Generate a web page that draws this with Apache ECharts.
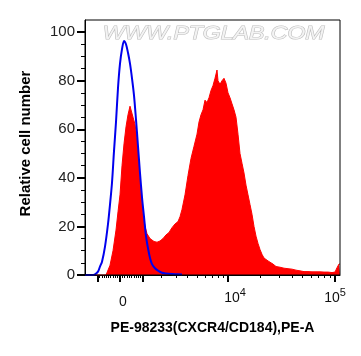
<!DOCTYPE html>
<html>
<head>
<meta charset="utf-8">
<script src="https://cdn.jsdelivr.net/npm/echarts@6/dist/echarts.min.js"></script>
<style>
html,body{margin:0;padding:0;background:#fff;}
#chart{width:361px;height:356px;}
</style>
</head>
<body>
<div id="chart"></div>
<script>
// ---- data (x in display channels, 0..255; y = relative cell number) ----
const redChannels = [0,21,22,25,28,31,33,35,37,39,41,43,45,46,48,50,52,54,56,58,60,62,65,69,72,75,78,81,84,87,90,93,95,97,100,103,106,109,112,114,116,118,120,122,124,126,128,130,132,133,135,137,139,141,143,145,147,149,151,153,155,157,159,161,163,165,167,169,171,173,175,177,179,181,183,185,188,191,195,199,203,207,211,215,219,223,227,231,235,239,243,247,250,252,254,255];
const redCounts   = [0,0,0.3,4,10,18.5,26,33,45,54,61,66,69.5,69,65,62,56,46,33,25,20,17,15,13.8,13.5,14,15,16.5,17.5,19.5,21,22,24,27,33,41,48,53,58,63,66,68,72,71,73,76,78,81,84.4,80,78.5,80,81,79,75,73,70.5,68,65,58,50,46,42,37,33,29,25,20,16,13,10.5,8.5,7,6.3,5.8,5.3,4.5,3.5,3.2,2.8,2.6,2.4,2,1.7,1.4,1.4,1.3,1.3,1.3,1.2,1.2,1.0,1.2,3,4.5,4.5];

const blueChannels = [0,7,10,13,15,17,20,23,25,27,29,31,33,35,37,39,41,43,45,47,49,51,53,55,57,59,61,63,65,67,70,73,77,81,87,93,97];
const blueCounts   = [0,0,0.3,1.4,3.5,5.5,11.7,21,29,38,51,63,77,87,93,96.4,95,91.5,87,81,74,64,53,42,32,24,16,11,7,4.5,2.8,1.8,0.9,0.6,0.4,0.3,0.2];

const xMajorTicks = [-1000, 0, 1000, 10000, 100000];
const xMinorTicks = [-900,-800,-700,-600,-500,-400,-300,-200,-100,100,200,300,400,500,600,700,800,900,
  2000,3000,4000,5000,6000,7000,8000,9000,20000,30000,40000,50000,60000,70000,80000,90000];
const xLabelValues = [0, 10000, 100000];
const xLabelBase = ['0', '10', '10'];
const xLabelExp  = ['', '4', '5'];

const yMajorTicks = [0,20,40,60,80,100];
const yMinorTicks = [5,10,15,25,30,35,45,50,55,65,70,75,85,90,95];

const xTitle = 'PE-98233(CXCR4/CD184),PE-A';
const yTitle = 'Relative cell number';
const watermark = 'WWW.PTGLAB.COM';

// biexponential-like display transform (value -> channel)
function ch(v){ return 35 + 46.7 * Math.asinh(v / 2000); }

const FONT = 'Liberation Sans, Arial, sans-serif';
const chart = echarts.init(document.getElementById('chart'), null, {renderer:'canvas'});

const labelChannels = xLabelValues.map(ch);
function labelIndex(val){
  for (let i=0;i<labelChannels.length;i++) if (Math.abs(labelChannels[i]-val) < 0.01) return i;
  return -1;
}

chart.setOption({
  animation:false,
  backgroundColor:'#fff',
  grid:{left:85, top:20, width:255, height:255, show:true, borderColor:'#000', borderWidth:1, backgroundColor:'transparent', z:5},
  graphic:[{
    type:'text', left:102, top:24, z:0, scaleX:1.28,
    style:{text:watermark, font:'italic 18px ' + FONT, fill:'#f3f3f3', stroke:'#bdbdbd', lineWidth:1}
  }],
  xAxis:[{
    type:'value', position:'bottom', min:0, max:255,
    name:xTitle, nameLocation:'middle', nameGap:46,
    nameTextStyle:{fontFamily:FONT, fontWeight:'bold', fontSize:14, color:'#000'},
    axisLine:{show:true, lineStyle:{color:'#000', width:1}},
    axisTick:{show:true, customValues:xMajorTicks.map(ch), length:7, lineStyle:{color:'#000', width:2}},
    axisLabel:{show:true, customValues:labelChannels, margin:12,
      formatter:function(val){
        const i = labelIndex(val);
        if (i < 0) return '';
        if (!xLabelExp[i]) return '{z|' + xLabelBase[i] + '}';
        return (i === xLabelValues.length-1 ? '{bl|' : '{br|') + xLabelBase[i] + '}{sup|' + xLabelExp[i] + '}';
      },
      rich:{
        z:{fontFamily:FONT, fontSize:14, color:'#111', padding:[0,0,0,6], lineHeight:22, verticalAlign:'bottom'},
        br:{fontFamily:FONT, fontSize:14, color:'#111', padding:[4,0,0,14], lineHeight:18, verticalAlign:'bottom'},
        bl:{fontFamily:FONT, fontSize:14, color:'#111', padding:[4,0,0,0], lineHeight:18, verticalAlign:'bottom'},
        sup:{fontFamily:FONT, fontSize:11, color:'#111', lineHeight:12, verticalAlign:'top'}
      }
    },
    splitLine:{show:false}
  },{
    type:'value', position:'bottom', min:0, max:255,
    axisLine:{show:false},
    axisTick:{show:true, customValues:xMinorTicks.map(ch), length:3, lineStyle:{color:'#000', width:1}},
    axisLabel:{show:false},
    splitLine:{show:false}
  }],
  yAxis:[{
    type:'value', position:'left', min:0, max:105,
    name:yTitle, nameLocation:'middle', nameGap:52, nameRotate:90,
    nameTextStyle:{fontFamily:FONT, fontWeight:'bold', fontSize:15, color:'#000', padding:[0,0,0,8]},
    axisLine:{show:true, lineStyle:{color:'#000', width:1}},
    axisTick:{show:true, customValues:yMajorTicks, length:8, lineStyle:{color:'#000', width:2}},
    axisLabel:{show:true, customValues:yMajorTicks, margin:10, fontFamily:FONT, fontSize:15, color:'#222'},
    splitLine:{show:false}
  },{
    type:'value', position:'left', min:0, max:105,
    axisLine:{show:false},
    axisTick:{show:true, customValues:yMinorTicks, length:4, lineStyle:{color:'#000', width:1}},
    axisLabel:{show:false},
    splitLine:{show:false}
  }],
  series:[{
    type:'line', name:'sample', xAxisIndex:0, yAxisIndex:0,
    data:redChannels.map((c,i)=>[c, redCounts[i]]),
    symbol:'none', smooth:false, z:2,
    lineStyle:{color:'#ff0000', width:1},
    areaStyle:{color:'#ff0000', opacity:1}
  },{
    type:'line', name:'control', xAxisIndex:0, yAxisIndex:0,
    data:blueChannels.map((c,i)=>[c, blueCounts[i]]),
    symbol:'none', smooth:0.3, z:3,
    lineStyle:{color:'#0000ee', width:2}
  }]
});
</script>
</body>
</html>
